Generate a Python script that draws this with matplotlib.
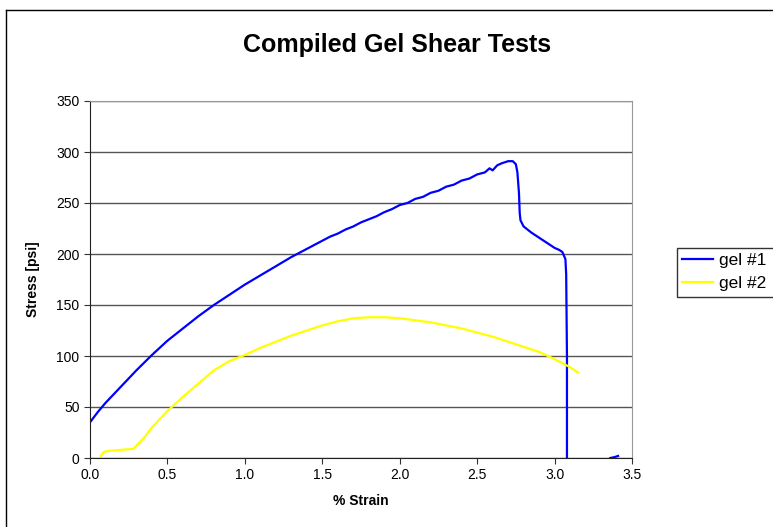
import matplotlib
matplotlib.use("Agg")
import matplotlib.pyplot as plt
from matplotlib.lines import Line2D

plt.rcParams['font.family'] = ['Liberation Sans', 'DejaVu Sans']

# gel #1 (blue)
strain1 = [0.0, 0.05, 0.1, 0.2, 0.3, 0.4, 0.5, 0.6, 0.7, 0.8, 0.9, 1.0, 1.1, 1.2, 1.3,
           1.4, 1.5, 1.55, 1.6, 1.65, 1.7, 1.75, 1.8, 1.85, 1.9, 1.95, 2.0, 2.05, 2.1,
           2.15, 2.2, 2.25, 2.3, 2.35, 2.4, 2.45, 2.5, 2.55, 2.58, 2.6, 2.63, 2.66,
           2.7, 2.73, 2.75, 2.76, 2.77, 2.775, 2.78, 2.8, 2.85, 2.9, 2.95, 3.0, 3.03,
           3.05, 3.07, 3.075, 3.08, 3.08]
stress1 = [35, 45, 54, 70, 86, 101, 115, 127, 139, 150, 160, 170, 179, 188, 197,
           205, 213, 217, 220, 224, 227, 231, 234, 237, 241, 244, 248, 250, 254,
           256, 260, 262, 266, 268, 272, 274, 278, 280, 284, 282, 287, 289,
           291, 291, 288, 280, 260, 240, 233, 227, 221, 216, 211, 206, 204,
           202, 195, 180, 100, 0]
# small blip at the end of test 1
strain1b = [3.36, 3.39, 3.41]
stress1b = [0, 1, 2]

# gel #2 (yellow)
strain2 = [0.07, 0.09, 0.12, 0.2, 0.28, 0.3, 0.35, 0.4, 0.5, 0.6, 0.7, 0.8, 0.9,
           1.0, 1.1, 1.2, 1.3, 1.4, 1.5, 1.6, 1.7, 1.8, 1.9, 2.0, 2.1, 2.2, 2.3, 2.4,
           2.5, 2.6, 2.7, 2.8, 2.9, 3.0, 3.1, 3.15]
stress2 = [2, 6, 7, 8, 9, 12, 20, 30, 46, 60, 73, 86, 95, 101, 108, 114, 120, 125,
           130, 134, 137, 138, 138, 137, 135, 133, 130, 127, 123, 119, 114, 109,
           104, 97, 89, 84]

fig = plt.figure(figsize=(7.73, 5.27), dpi=100)
ax = fig.add_axes([90/773, 69/527, 542/773, 357/527])

ax.plot(strain1, stress1, color='#0000ff', lw=1.6, label='gel #1')
ax.plot(strain1b, stress1b, color='#0000ff', lw=1.6)
ax.plot(strain2, stress2, color='#ffff00', lw=1.6, label='gel #2')

ax.set_xlim(0, 3.5)
ax.set_ylim(0, 350)
ax.set_xticks([0.0, 0.5, 1.0, 1.5, 2.0, 2.5, 3.0, 3.5])
ax.set_xticklabels(['0.0', '0.5', '1.0', '1.5', '2.0', '2.5', '3.0', '3.5'])
ax.set_yticks(range(0, 351, 50))
ax.yaxis.grid(True, color='#555555', lw=1)
ax.set_axisbelow(True)
ax.tick_params(labelsize=10, direction='out', length=4, color='#333333')
for s in ['top', 'right']:
    ax.spines[s].set_color('#999999')
for s in ['left', 'bottom']:
    ax.spines[s].set_color('#222222')

ax.set_xlabel('% Strain', fontsize=10, fontweight='bold', labelpad=8)
ax.set_ylabel('Stress [psi]', fontsize=10, fontweight='bold', labelpad=12)

fig.text(0.514, 1 - 45/527, 'Compiled Gel Shear Tests', fontsize=18,
         fontweight='bold', ha='center', va='center')

# legend box runs off the right edge like the original
leg = fig.legend(loc='upper left', bbox_to_anchor=(677/773, 1 - 248/527, 0.16, 0),
                 mode='expand', fontsize=12.5, frameon=True, fancybox=False,
                 handlelength=1.8, borderaxespad=0, borderpad=0.3,
                 labelspacing=0.45, handletextpad=0.3)
leg.get_frame().set_edgecolor('black')
leg.get_frame().set_linewidth(1)

# outer chart border (left and top visible)
fig.add_artist(Line2D([6/773, 6/773], [0, 1 - 10/527], color='black', lw=1))
fig.add_artist(Line2D([6/773, 1], [1 - 10/527, 1 - 10/527], color='black', lw=1))

fig.savefig('out.png', dpi=100)
